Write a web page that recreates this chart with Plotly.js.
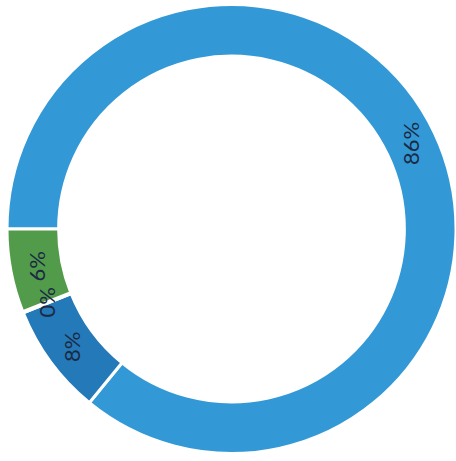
<!DOCTYPE html>
<html>
<head>
<meta charset="utf-8">
<script src="https://cdn.plot.ly/plotly-3.0.1.min.js"></script>
<style>html,body{margin:0;padding:0;background:#fff;}#chart{width:456px;height:461px;}</style>
</head>
<body>
<div id="chart"></div>
<script>
// Clockwise from 9 o'clock: A (86%), B (8%), D (~0%), C (6%)
const labels = ["Segment A", "Segment B", "Segment D", "Segment C"];
const values = [86, 8, 0.1, 6];
const sliceColors = ["#3399d6", "#2479b8", "#3a8ec8", "#529b4a"];

const W = 456, H = 461;
const margin = { l: 7, r: 0, t: 4, b: 7 };
const hole = 0.77;
const rotationDeg = -90;
const labelFont = { family: "Lato, 'DejaVu Sans', sans-serif", size: 22, color: "#1b2a44" };

const trace = {
  type: "pie",
  labels: labels,
  values: values,
  sort: false,
  direction: "clockwise",
  rotation: rotationDeg,
  hole: hole,
  marker: { colors: sliceColors, line: { color: "#ffffff", width: 3 } },
  textinfo: "none",
  hoverinfo: "label+percent",
  showlegend: false
};

// Percent labels, set vertically (reading upwards) at the middle of each slice's band
const pw = W - margin.l - margin.r, ph = H - margin.t - margin.b;
const R = Math.min(pw, ph) / 2;
const rText = R * (1 + hole) / 2;
const total = values.reduce((a, b) => a + b, 0);
let cum = 0;
const annotations = values.map((v) => {
  const mid = (rotationDeg + (cum + v / 2) / total * 360) * Math.PI / 180;
  cum += v;
  return {
    xref: "paper", yref: "paper",
    x: 0.5 + rText * Math.sin(mid) / pw,
    y: 0.5 + rText * Math.cos(mid) / ph,
    xanchor: "center", yanchor: "middle",
    text: Math.round(v / total * 100) + "%",
    textangle: -90,
    showarrow: false,
    font: labelFont
  };
});

const layout = {
  width: W,
  height: H,
  margin: margin,
  paper_bgcolor: "#ffffff",
  plot_bgcolor: "#ffffff",
  showlegend: false,
  annotations: annotations
};

Plotly.newPlot("chart", [trace], layout, { displayModeBar: false, staticPlot: true });
</script>
</body>
</html>
